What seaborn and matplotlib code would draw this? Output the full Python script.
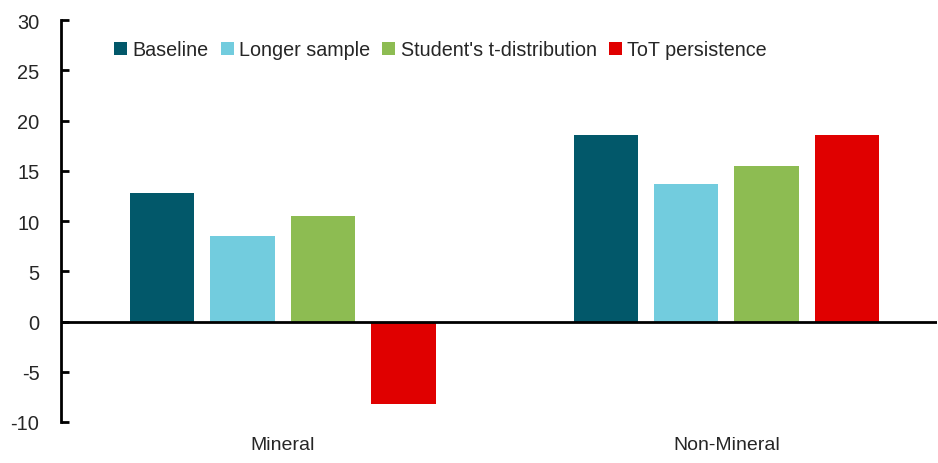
import matplotlib
matplotlib.use("Agg")
import matplotlib.pyplot as plt
import seaborn as sns
import pandas as pd
from matplotlib.patches import Patch

categories = ["Mineral", "Non-Mineral"]
series = ["Baseline", "Longer sample", "Student's t-distribution", "ToT persistence"]
baseline = [12.75, 18.6]
longer_sample = [8.55, 13.65]
student_t = [10.5, 15.45]
tot_persistence = [-8.2, 18.6]
colors = ["#02586A", "#72CCDE", "#8DBC52", "#E00000"]
yticks = [-10, -5, 0, 5, 10, 15, 20, 25, 30]

rows = []
for s, vals in zip(series, [baseline, longer_sample, student_t, tot_persistence]):
    for c, v in zip(categories, vals):
        rows.append({"category": c, "series": s, "value": v})
df = pd.DataFrame(rows)

sns.set_style("white")
font = ["Liberation Sans", "DejaVu Sans"]
plt.rcParams["font.family"] = font

fig = plt.figure(figsize=(9.38, 4.64), dpi=100)
ax = fig.add_axes([61/938, 1-423/464, 876/938, 402/464])

sns.barplot(data=df, x="category", y="value", hue="series", hue_order=series,
            palette=colors, width=0.725, gap=0.2, ax=ax, legend=False,
            saturation=1, edgecolor="none", linewidth=0)

ax.set_xlim(-0.5, 1.475)
ax.set_ylim(-10, 30)
ax.set_yticks(yticks)
ax.set_yticklabels([str(t) for t in yticks], fontsize=14.4)
ax.set_xlabel("")
ax.set_ylabel("")
ax.tick_params(axis="x", length=0, labelsize=14, pad=10)
ax.tick_params(axis="y", direction="in", length=6, width=2, color="black", pad=15.5, left=True)
for sp in ["top", "right", "bottom"]:
    ax.spines[sp].set_visible(False)
ax.spines["left"].set_linewidth(2)
ax.spines["left"].set_color("black")
ax.axhline(0, color="black", linewidth=2, zorder=5)
ax.grid(False)

handles = [Patch(facecolor=c, edgecolor="none", label=s) for s, c in zip(series, colors)]
fig.legend(handles=handles, loc="center left", bbox_to_anchor=(114/938, 1-51/464),
           bbox_transform=fig.transFigure, ncol=4, frameon=False, fontsize=14.2,
           handlelength=0.66, handleheight=0.66, handletextpad=0.27,
           columnspacing=0.62, borderpad=0, borderaxespad=0)

fig.savefig("out.png", dpi=100)
